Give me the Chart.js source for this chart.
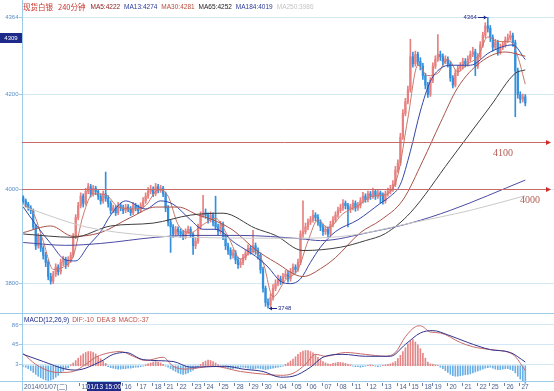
<!DOCTYPE html>
<html>
<head>
<meta charset="utf-8">
<script src="https://cdn.jsdelivr.net/npm/chart.js@4.4.0/dist/chart.umd.min.js"></script>
<style>
html,body{margin:0;padding:0;background:#fff;overflow:hidden;}
#wrap{position:relative;width:554px;height:391px;}
#main{position:absolute;left:0;top:0;}
#macd{position:absolute;left:0;top:313px;}
</style>
</head>
<body>
<div id="wrap">
<canvas id="main" width="554" height="313"></canvas>
<canvas id="macd" width="554" height="78"></canvas>
</div>
<script>
// 240-minute candles (index 0 = first bar on the left)
const opens = [3982,3975,3968,3960,3955,3920,3880,3900,3875,3860,
  3845,3815,3805,3820,3835,3825,3845,3850,3840,3850,
  3860,3900,3940,3965,3985,3970,3995,4005,3990,4002,
  3995,3985,3975,3990,3980,3970,3955,3960,3950,3965,
  3960,3955,3962,3958,3950,3965,3960,3955,3965,3975,
  3985,3995,4000,3990,4005,3998,4002,3990,3960,3930,
  3920,3905,3915,3910,3905,3900,3910,3915,3905,3880,
  3890,3920,3945,3950,3945,3935,3945,3930,3920,3910,
  3925,3900,3880,3870,3860,3865,3850,3840,3845,3855,
  3865,3875,3870,3880,3870,3860,3830,3790,3760,3755,
  3770,3790,3800,3810,3805,3815,3820,3810,3825,3835,
  3830,3845,3905,3910,3920,3930,3935,3945,3940,3930,
  3920,3910,3915,3905,3925,3935,3945,3955,3960,3970,
  3965,3958,3962,3970,3960,3965,3975,3985,3978,3990,
  3985,3995,3985,3992,3988,3975,3990,3995,4000,4010,
  4040,4055,4110,4160,4185,4210,4280,4265,4285,4270,
  4260,4240,4220,4200,4230,4260,4275,4285,4280,4270,
  4275,4265,4235,4220,4245,4255,4260,4270,4265,4275,
  4285,4290,4260,4280,4305,4325,4345,4340,4320,4300,
  4310,4290,4300,4305,4315,4320,4325,4310,4250,4200,
  4190,4195];
const closes = [3975,3968,3960,3955,3920,3880,3900,3875,3860,3845,
  3815,3805,3820,3835,3825,3845,3850,3840,3850,3860,
  3900,3940,3965,3985,3970,3995,4005,3990,4002,3995,
  3985,3975,3990,3980,3970,3955,3960,3950,3965,3960,
  3955,3962,3958,3950,3965,3960,3955,3965,3975,3985,
  3995,4000,3990,4005,3998,4002,3990,3960,3930,3920,
  3905,3915,3910,3905,3900,3910,3915,3905,3880,3890,
  3920,3945,3950,3945,3935,3945,3930,3920,3910,3925,
  3900,3880,3870,3860,3865,3850,3840,3845,3855,3865,
  3875,3870,3880,3870,3860,3830,3790,3760,3755,3770,
  3790,3800,3810,3805,3815,3820,3810,3825,3835,3830,
  3845,3905,3910,3920,3930,3935,3945,3940,3930,3920,
  3910,3915,3905,3925,3935,3945,3955,3960,3970,3965,
  3958,3962,3970,3960,3965,3975,3985,3978,3990,3985,
  3995,3985,3992,3988,3975,3990,3995,4000,4010,4040,
  4055,4110,4160,4185,4210,4280,4265,4285,4270,4260,
  4240,4220,4200,4230,4260,4275,4285,4280,4270,4275,
  4265,4235,4220,4245,4255,4260,4270,4265,4275,4285,
  4290,4260,4280,4305,4325,4345,4340,4320,4300,4310,
  4290,4300,4305,4315,4320,4325,4310,4250,4200,4190,
  4195,4182];
const highs = [3986,3979,3972,3965,3958,3925,3906,3904,3880,3866,
  3850,3822,3826,3842,3840,3852,3858,3856,3857,3866,
  3906,3946,3972,3992,3990,4002,4012,4010,4008,4006,
  3999,3990,3996,4036,3986,3975,3966,3965,3972,3970,
  3966,3968,3967,3963,3972,3970,3966,3971,3982,3992,
  4003,4008,4005,4012,4010,4008,4006,3994,3965,3936,
  3925,3921,3920,3916,3912,3916,3922,3920,3908,3897,
  3926,3952,3987,3958,3950,3952,3950,3985,3926,3932,
  3930,3905,3886,3876,3872,3870,3856,3852,3862,3872,
  3882,3880,3913,3886,3876,3865,3835,3795,3768,3778,
  3798,3808,3818,3816,3822,3828,3826,3832,3842,3840,
  3852,3912,3975,3928,3937,3942,3955,3950,3946,3935,
  3926,3922,3920,3932,3942,3952,3962,3968,3978,3975,
  3970,3968,3977,3975,3972,3982,3993,3990,3996,3995,
  4002,3999,3998,3996,3992,3996,4002,4008,4018,4048,
  4062,4118,4168,4192,4218,4317,4290,4292,4290,4278,
  4266,4245,4226,4236,4267,4282,4327,4292,4286,4282,
  4280,4270,4240,4252,4262,4268,4277,4276,4282,4292,
  4300,4296,4287,4312,4332,4352,4364,4346,4326,4317,
  4315,4307,4312,4322,4328,4334,4330,4315,4256,4206,
  4201,4200];
const lows = [3970,3962,3955,3948,3915,3872,3875,3868,3852,3836,
  3808,3799,3800,3815,3818,3820,3838,3832,3836,3845,
  3856,3895,3935,3960,3962,3966,3990,3983,3985,3988,
  3978,3968,3970,3974,3962,3948,3950,3944,3946,3954,
  3948,3950,3952,3944,3946,3954,3948,3950,3960,3970,
  3980,3990,3984,3986,3992,3993,3984,3952,3922,3866,
  3898,3900,3903,3898,3893,3895,3905,3898,3862,3874,
  3885,3915,3940,3938,3928,3930,3922,3914,3902,3905,
  3893,3872,3862,3852,3854,3842,3832,3834,3840,3850,
  3860,3862,3865,3862,3852,3822,3782,3752,3748,3750,
  3765,3785,3795,3798,3800,3810,3803,3805,3820,3822,
  3826,3840,3898,3905,3914,3925,3930,3933,3923,3912,
  3902,3904,3898,3900,3920,3930,3940,3950,3955,3958,
  3920,3950,3956,3953,3955,3960,3970,3972,3973,3978,
  3980,3978,3980,3970,3968,3970,3985,3990,3995,4005,
  4035,4050,4105,4155,4180,4205,4258,4260,4262,4252,
  4232,4212,4194,4196,4225,4255,4270,4272,4262,4265,
  4258,4228,4214,4216,4240,4250,4254,4258,4260,4270,
  4280,4240,4255,4275,4300,4320,4332,4312,4292,4295,
  4283,4285,4295,4300,4310,4315,4302,4153,4192,4182,
  4184,4176];

// moving averages, [bar index, value]
const ma5 = [[0,3968],[4,3950],[8,3890],[12,3830],[16,3835],[20,3858],[24,3945],[28,3990],[33,3988],[38,3962],[44,3958],[49,3965],[54,3998],[58,3985],[62,3925],[67,3908],[72,3925],[77,3938],[82,3900],[87,3852],[92,3868],[96,3845],[100,3772],[105,3808],[110,3830],[114,3890],[118,3935],[122,3918],[128,3948],[134,3965],[140,3985],[145,3988],[150,4030],[154,4150],[158,4262],[162,4240],[166,4245],[170,4275],[174,4248],[178,4265],[182,4280],[186,4322],[190,4312],[195,4312],[198,4280],[201,4222]];
const ma13 = [[0,3962],[5,3925],[11,3885],[17,3850],[21,3848],[26,3880],[31,3910],[35,3945],[41,3975],[49,3958],[55,3975],[60,3968],[67,3935],[72,3915],[77,3915],[85,3885],[93,3858],[98,3835],[103,3805],[107,3800],[111,3810],[115,3845],[119,3877],[125,3910],[134,3935],[143,3970],[147,3985],[151,4010],[155,4080],[159,4165],[163,4228],[167,4255],[171,4262],[179,4262],[187,4290],[196,4305],[201,4274]];
const ma30 = [[0,3908],[11,3922],[20,3900],[31,3908],[43,3940],[53,3962],[62,3962],[70,3945],[75,3937],[84,3913],[93,3872],[101,3845],[112,3815],[120,3835],[125,3855],[135,3908],[143,3934],[152,3977],[160,4060],[167,4140],[174,4215],[183,4268],[193,4290],[201,4281]];
const ma65 = [[0,3905],[20,3898],[35,3922],[52,3928],[67,3945],[80,3949],[93,3917],[101,3902],[112,3870],[127,3877],[137,3891],[145,3906],[155,3950],[171,4062],[187,4175],[197,4245],[201,4252]];
const ma184 = [[0,3887],[17,3881],[31,3885],[53,3898],[67,3902],[87,3902],[111,3895],[119,3891],[139,3909],[155,3928],[171,3955],[201,4019]];
const ma250 = [[0,3963],[25,3920],[50,3902],[67,3898],[111,3896],[131,3902],[155,3928],[179,3955],[201,3986]];

// MACD(12,26,9)
const macdHist = [-1,-3,-6,-10,-14,-18,-22,-25,-28,-30,-31,-30,-28,-24,-20,-15,-11,-7,-4,
  2,6,11,16,21,25,28,30,30,28,25,20,15,10,5,
  -2,-4,-5,-6,-7,-7,-6,-6,-5,-5,-4,-3,-3,-2,-1,
  2,4,6,8,9,8,6,3,
  -1,-3,-6,-9,-12,-15,-17,-18,-17,-15,-12,-9,-6,-2,3,7,10,12,11,9,6,2,
  -2,-3,-4,-5,-6,-6,-5,-4,-3,-3,-4,-5,-6,-7,-6,-5,-6,-7,-8,-7,
  -6,-5,-4,-3,-2,-1,
  3,6,10,14,19,24,28,31,32,32,30,27,23,18,13,9,6,4,
  3,5,6,7,7,6,5,3,2,
  -1,-2,-2,-3,-2,-1,1,2,1,-1,-2,-1,1,2,3,4,6,
  9,15,22,30,38,46,52,55,50,44,36,26,16,8,
  4,3,2,1,
  -3,-6,-10,-14,-18,-21,-22,-22,-21,-20,-19,-18,-17,-15,-13,-11,-9,-7,-5,-4,
  -3,-5,-7,-8,-8,-7,-6,-6,-8,-10,
  -15,-22,-28,-33,-37];
const dif = [[0,26],[5,3],[11,-12],[15,-14],[20,-12],[25,3],[29,18],[35,28],[39,30],[44,20],[49,11],[56,18],[60,-1],[65,-7],[76,-1],[87,-12],[97,-18],[103,-20],[108,-16],[113,3],[117,24],[121,20],[129,28],[137,24],[145,20],[149,28],[153,61],[157,82],[159,84],[163,71],[167,69],[175,49],[180,40],[187,34],[196,24],[201,-10]];
const dea = [[0,24],[8,9],[17,-7],[21,-9],[31,9],[36,24],[41,28],[48,13],[60,9],[67,-3],[81,-1],[88,-7],[96,-12],[103,-24],[108,-22],[115,-3],[120,18],[128,24],[137,20],[147,20],[153,45],[159,69],[164,74],[170,65],[178,49],[187,34],[195,28],[201,8]];

const priceTicks = [3800, 4000, 4200, 4364];
const macdTicks = [3, 45, 86];
const guideLevels = [4100, 4000];
const xLabels = [[0,'2014/01/07(二)'],[23,'11'],[40,'16'],[46,'17'],[52,'18'],[57,'21'],[62,'22'],[68,'23'],[73,'24'],[79,'25'],[85,'28'],[91,'29'],[96,'30'],[102,'04'],[108,'05'],[114,'06'],[120,'07'],[126,'08'],[132,'11'],[138,'12'],[144,'13'],[150,'14'],[155,'15'],[160,'18'],[164,'19'],[170,'20'],[176,'21'],[182,'22'],[187,'25'],[193,'26'],[199,'27']];
const cursorBar = 26, cursorText = '01/13 15:00', cursorPrice = '4309';
const highBar = 186, lowBar = 98;

const N = 213; // slots on the time axis (right part stays empty)
const slots = Array.from({ length: N }, (_, i) => String(i));

const fontL = '"Liberation Sans", Arial, sans-serif';
const fontC = '"Noto Sans CJK SC", sans-serif';
const axisBlue = '#9ccbe8', gridBlue = '#d3e8f5', labelBlue = '#5a8ec8', navy = '#1d2a8a';
const upColor = '#e88080', downColor = '#3490de';

function padTo(arr) {
    const a = new Array(N).fill(null);
    arr.forEach(function (v, i) { a[i] = v; });
    return a;
}
function fromPairs(pairs) {
    const a = new Array(N).fill(null);
    pairs.forEach(function (p) { a[p[0]] = p[1]; });
    return a;
}
function maLine(pairs, color) {
    return {
        type: 'line', data: fromPairs(pairs), borderColor: color, borderWidth: 1,
        pointRadius: 0, spanGaps: true, cubicInterpolationMode: 'monotone', fill: false, order: 0
    };
}

const candleColors = closes.map(function (c, i) { return c >= opens[i] ? upColor : downColor; });

const mainOverlay = {
    id: 'mainOverlay',
    afterDraw(chart) {
        const ctx = chart.ctx, x = chart.scales.x, y = chart.scales.y, area = chart.chartArea;
        ctx.save();
        ctx.strokeStyle = axisBlue; ctx.lineWidth = 1;
        ctx.beginPath(); ctx.moveTo(22.5, 0); ctx.lineTo(22.5, area.top); ctx.stroke();

        // title line
        const parts = [['现货白银', '#c8342c', '7.5px ' + fontC, 5], ['240分钟', '#c8342c', '7.5px ' + fontC, 5],
            ['MA5:4222', '#8b1a1a', '6.5px ' + fontL, 4], ['MA13:4274', '#2a3a9a', '6.5px ' + fontL, 4],
            ['MA30:4281', '#b84a3a', '6.5px ' + fontL, 4], ['MA65:4252', '#222222', '6.5px ' + fontL, 4],
            ['MA184:4019', '#2a3a9a', '6.5px ' + fontL, 4], ['MA250:3986', '#c4c4c4', '6.5px ' + fontL, 4]];
        let tx = 23;
        ctx.textBaseline = 'middle'; ctx.textAlign = 'left';
        parts.forEach(function (p) {
            ctx.font = p[2]; ctx.fillStyle = p[1];
            ctx.fillText(p[0], tx, 7);
            tx += ctx.measureText(p[0]).width + p[3];
        });

        // price labels
        ctx.font = '6px ' + fontL; ctx.fillStyle = labelBlue; ctx.textAlign = 'right';
        priceTicks.forEach(function (v) { ctx.fillText(String(v), 18.5, y.getPixelForValue(v)); });
        ctx.fillStyle = navy; ctx.fillRect(0, 33, 22, 10);
        ctx.fillStyle = '#ffffff'; ctx.textAlign = 'center';
        ctx.fillText(cursorPrice, 11, 38);

        // red guide lines with arrows
        guideLevels.forEach(function (v) {
            const gy = Math.round(y.getPixelForValue(v)) + 0.5;
            ctx.strokeStyle = '#c96a6a'; ctx.lineWidth = 1;
            ctx.beginPath(); ctx.moveTo(area.left, gy); ctx.lineTo(547, gy); ctx.stroke();
            ctx.fillStyle = '#d42a2a';
            ctx.beginPath(); ctx.moveTo(546, gy - 2.5); ctx.lineTo(551, gy); ctx.lineTo(546, gy + 2.5); ctx.closePath(); ctx.fill();
        });
        ctx.font = '10px "Liberation Serif", serif'; ctx.fillStyle = '#b45a50'; ctx.textAlign = 'left';
        ctx.fillText('4100', 493, y.getPixelForValue(4100) + 12);
        ctx.fillText('4000', 520, y.getPixelForValue(4000) + 11);

        // high / low marks
        ctx.strokeStyle = navy; ctx.fillStyle = navy; ctx.font = '6px ' + fontL;
        const hx = x.getPixelForValue(highBar), hy = Math.round(y.getPixelForValue(highs[highBar])) + 0.5;
        ctx.beginPath(); ctx.moveTo(hx - 10, hy); ctx.lineTo(hx - 1, hy); ctx.stroke();
        ctx.beginPath(); ctx.moveTo(hx - 1, hy); ctx.lineTo(hx - 4, hy - 2); ctx.lineTo(hx - 4, hy + 2); ctx.closePath(); ctx.fill();
        ctx.textAlign = 'right'; ctx.fillText(String(highs[highBar]), hx - 11, hy);
        const lx = x.getPixelForValue(lowBar), ly = Math.round(y.getPixelForValue(lows[lowBar])) + 0.5;
        ctx.beginPath(); ctx.moveTo(lx + 1, ly); ctx.lineTo(lx + 9, ly); ctx.stroke();
        ctx.beginPath(); ctx.moveTo(lx + 1, ly); ctx.lineTo(lx + 4, ly - 2); ctx.lineTo(lx + 4, ly + 2); ctx.closePath(); ctx.fill();
        ctx.textAlign = 'left'; ctx.fillText(String(lows[lowBar]), lx + 10, ly);
        ctx.restore();
    }
};

const macdOverlay = {
    id: 'macdOverlay',
    afterDraw(chart) {
        const ctx = chart.ctx, x = chart.scales.x, y = chart.scales.y, area = chart.chartArea;
        ctx.save();
        ctx.strokeStyle = axisBlue; ctx.lineWidth = 1;
        ctx.beginPath();
        ctx.moveTo(0, 0.5); ctx.lineTo(554, 0.5);
        ctx.moveTo(0, area.bottom + 0.5); ctx.lineTo(554, area.bottom + 0.5);
        ctx.moveTo(22.5, area.bottom); ctx.lineTo(22.5, 78);
        ctx.stroke();

        ctx.textBaseline = 'middle'; ctx.textAlign = 'left';
        const parts = [['MACD(12,26,9)', navy], ['DIF:-10', '#c0504a'], ['DEA:8', '#c0504a'], ['MACD:-37', '#c0504a']];
        let tx = 24;
        ctx.font = '6.5px ' + fontL;
        parts.forEach(function (p) {
            ctx.fillStyle = p[1]; ctx.fillText(p[0], tx, 7);
            tx += ctx.measureText(p[0]).width + 3;
        });

        ctx.font = '6px ' + fontL; ctx.fillStyle = labelBlue; ctx.textAlign = 'right';
        macdTicks.forEach(function (v) { ctx.fillText(String(v), 18.5, y.getPixelForValue(v)); });

        // date labels
        ctx.font = '6.5px ' + fontL + ', ' + fontC;
        xLabels.forEach(function (l, k) {
            const px = Math.round(x.getPixelForValue(l[0]) - 1.25) + 0.5;
            ctx.fillStyle = '#4a5f8e'; ctx.textAlign = 'left';
            if (k === 0) { ctx.fillText(l[1], 24, 74); return; }
            ctx.strokeStyle = '#6a7fa8';
            ctx.beginPath(); ctx.moveTo(px, 70); ctx.lineTo(px, 73); ctx.stroke();
            ctx.fillText(l[1], px + 2, 74);
        });
        const cx = Math.round(x.getPixelForValue(cursorBar) - 1.25);
        ctx.fillStyle = navy; ctx.fillRect(cx, 69, 34, 9);
        ctx.fillStyle = '#ffffff'; ctx.textAlign = 'center';
        ctx.fillText(cursorText, cx + 17, 74);
        ctx.restore();
    }
};

new Chart(document.getElementById('main'), {
    type: 'bar',
    data: {
        labels: slots,
        datasets: [
            maLine(ma250, '#c9c9c9'),
            maLine(ma184, '#4b4ba3'),
            maLine(ma65, '#3e3e3e'),
            maLine(ma30, '#a8524a'),
            maLine(ma13, '#3446a8'),
            maLine(ma5, '#c9786a'),
            {
                type: 'bar', data: padTo(lows.map(function (l, i) { return [l, highs[i]]; })),
                backgroundColor: candleColors, barThickness: 1, grouped: false, order: 2
            },
            {
                type: 'bar', data: padTo(opens.map(function (o, i) { return [o, closes[i]]; })),
                backgroundColor: candleColors, barThickness: 1.6, grouped: false, minBarLength: 1, order: 1
            }
        ]
    },
    options: {
        responsive: false, animation: false, devicePixelRatio: 1,
        layout: { padding: { top: 17, bottom: 1, left: 0, right: 0 } },
        plugins: { legend: { display: false }, tooltip: { enabled: false } },
        scales: {
            x: { display: false, offset: true },
            y: {
                min: 3740, max: 4364,
                afterFit: function (s) { s.width = 22; },
                afterBuildTicks: function (s) { s.ticks = priceTicks.map(function (v) { return { value: v }; }); },
                ticks: { display: false },
                grid: { color: gridBlue, tickColor: axisBlue, tickLength: 3 },
                border: { color: axisBlue }
            }
        }
    },
    plugins: [mainOverlay]
});

new Chart(document.getElementById('macd'), {
    type: 'bar',
    data: {
        labels: slots,
        datasets: [
            { type: 'line', data: fromPairs(dea), borderColor: '#34348f', borderWidth: 1, pointRadius: 0, spanGaps: true, cubicInterpolationMode: 'monotone', order: 0 },
            { type: 'line', data: fromPairs(dif), borderColor: '#c86a6a', borderWidth: 1, pointRadius: 0, spanGaps: true, cubicInterpolationMode: 'monotone', order: 0 },
            {
                type: 'bar', data: padTo(macdHist),
                backgroundColor: macdHist.map(function (v) { return v >= 0 ? '#e58585' : '#6ab0e6'; }),
                barThickness: 1, grouped: false, clip: 6, order: 1
            }
        ]
    },
    options: {
        responsive: false, animation: false, devicePixelRatio: 1,
        layout: { padding: { top: 0, bottom: 10, left: 0, right: 0 } },
        plugins: { legend: { display: false }, tooltip: { enabled: false } },
        scales: {
            x: { display: false, offset: true },
            y: {
                min: -32, max: 111,
                afterFit: function (s) { s.width = 22; },
                afterBuildTicks: function (s) { s.ticks = macdTicks.map(function (v) { return { value: v }; }); },
                ticks: { display: false },
                grid: { color: gridBlue, tickColor: axisBlue, tickLength: 3 },
                border: { color: axisBlue }
            }
        }
    },
    plugins: [macdOverlay]
});
</script>
</body>
</html>
